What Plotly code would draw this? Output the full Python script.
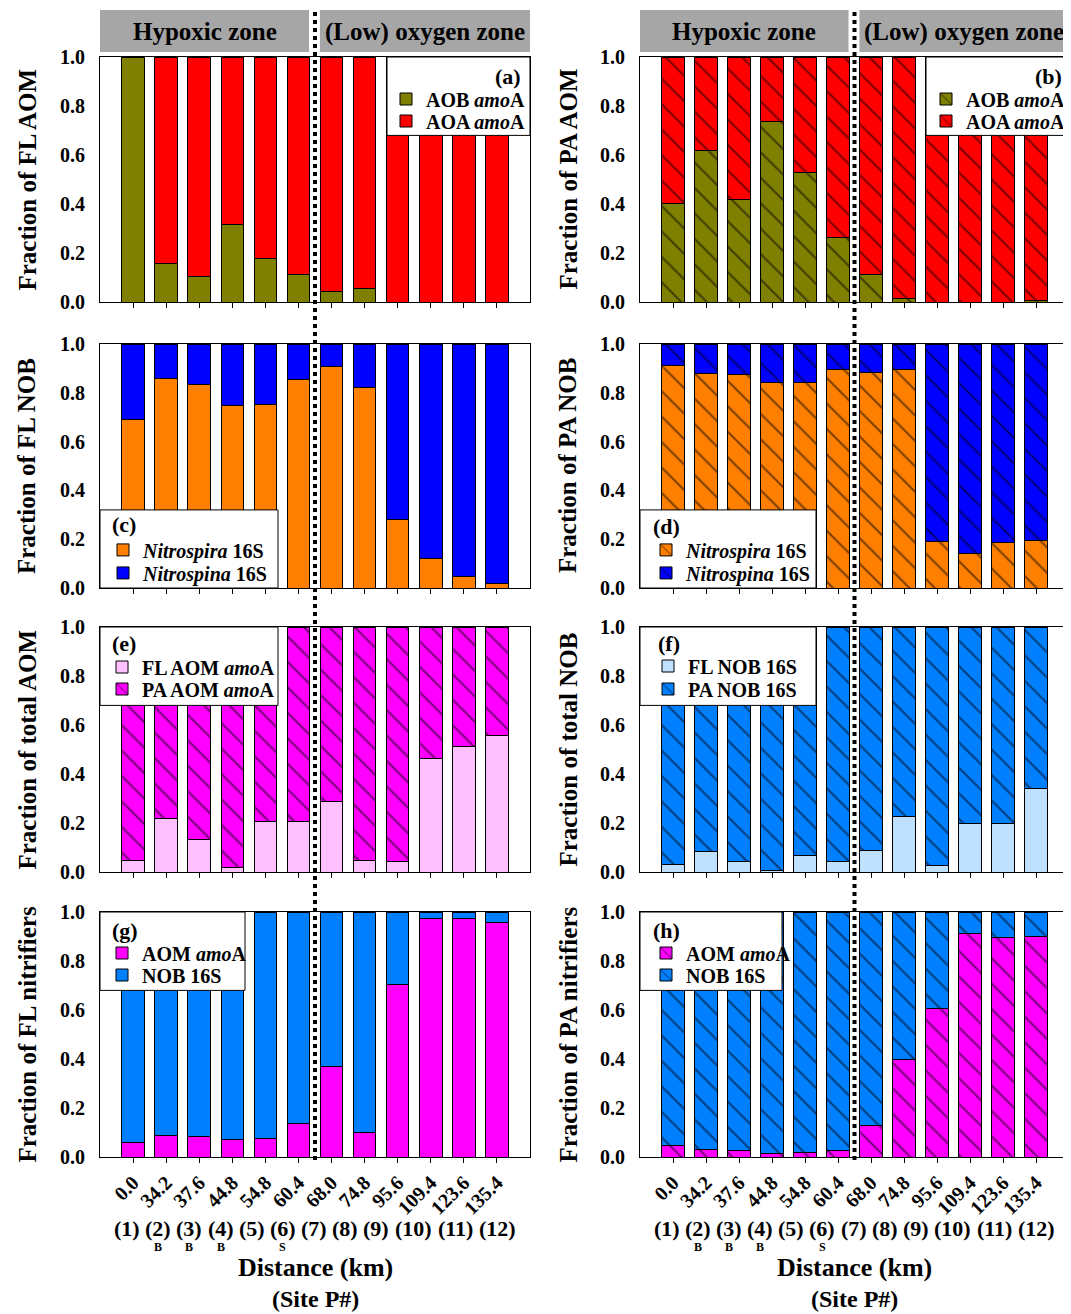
import plotly.graph_objects as go

W, H = 1071, 1314          # browser window
OFF = 8                    # default page body margin
FW, FH = W - OFF, H - OFF  # figure size so that the page fits the window
SERIF = "Liberation Serif, Times New Roman, serif"

# ---------------- data ----------------
distance_km = ["0.0", "34.2", "37.6", "44.8", "54.8", "60.4",
               "68.0", "74.8", "95.6", "109.4", "123.6", "135.4"]
site_labels = ["(1)", "(2)", "(3)", "(4)", "(5)", "(6)",
               "(7)", "(8)", "(9)", "(10)", "(11)", "(12)"]
site_subscripts = ["", "B", "B", "B", "", "S", "", "", "", "", "", ""]
zone_labels = ["Hypoxic zone", "(Low) oxygen zone"]

# (a) free-living ammonia oxidisers
fl_aob_amoA = [1.000, 0.156, 0.105, 0.318, 0.177, 0.114, 0.041, 0.057, 0.0, 0.0, 0.0, 0.0]
fl_aoa_amoA = [0.000, 0.844, 0.895, 0.682, 0.823, 0.886, 0.959, 0.943, 1.0, 1.0, 1.0, 1.0]
# (b) particle-attached ammonia oxidisers
pa_aob_amoA = [0.401, 0.620, 0.418, 0.736, 0.528, 0.265, 0.114, 0.016, 0.0, 0.0, 0.0, 0.005]
pa_aoa_amoA = [0.599, 0.380, 0.582, 0.264, 0.472, 0.735, 0.886, 0.984, 1.0, 1.0, 1.0, 0.995]
# (c) free-living NOB
fl_nitrospira = [0.691, 0.859, 0.834, 0.748, 0.754, 0.854, 0.907, 0.822, 0.280, 0.119, 0.049, 0.018]
fl_nitrospina = [0.309, 0.141, 0.166, 0.252, 0.246, 0.146, 0.093, 0.178, 0.720, 0.881, 0.951, 0.982]
# (d) particle-attached NOB
pa_nitrospira = [0.911, 0.880, 0.876, 0.844, 0.844, 0.895, 0.885, 0.895, 0.192, 0.140, 0.186, 0.196]
pa_nitrospina = [0.089, 0.120, 0.124, 0.156, 0.156, 0.105, 0.115, 0.105, 0.808, 0.860, 0.814, 0.804]
# (e) total AOM
fl_aom_of_total = [0.046, 0.218, 0.131, 0.020, 0.208, 0.208, 0.286, 0.046, 0.041, 0.464, 0.512, 0.558]
pa_aom_of_total = [0.954, 0.782, 0.869, 0.980, 0.792, 0.792, 0.714, 0.954, 0.959, 0.536, 0.488, 0.442]
# (f) total NOB
fl_nob_of_total = [0.031, 0.083, 0.042, 0.005, 0.067, 0.042, 0.089, 0.225, 0.025, 0.199, 0.199, 0.340]
pa_nob_of_total = [0.969, 0.917, 0.958, 0.995, 0.933, 0.958, 0.911, 0.775, 0.975, 0.801, 0.801, 0.660]
# (g) FL nitrifiers
fl_aom_amoA = [0.060, 0.087, 0.082, 0.071, 0.076, 0.135, 0.370, 0.098, 0.705, 0.974, 0.974, 0.956]
fl_nob_16s = [0.940, 0.913, 0.918, 0.929, 0.924, 0.865, 0.630, 0.902, 0.295, 0.026, 0.026, 0.044]
# (h) PA nitrifiers
pa_aom_amoA = [0.046, 0.030, 0.025, 0.014, 0.019, 0.025, 0.130, 0.397, 0.606, 0.914, 0.895, 0.899]
pa_nob_16s = [0.954, 0.970, 0.975, 0.986, 0.981, 0.975, 0.870, 0.603, 0.394, 0.086, 0.105, 0.101]

y_ticks = [0.0, 0.2, 0.4, 0.6, 0.8, 1.0]

# ---------------- style ----------------
OLIVE, RED = "#808000", "#ff0000"
ORANGE, BLUE = "#ff8000", "#0000ff"
MAGENTA, PINK = "#ff00ff", "#ffc0ff"
SKY, LIGHTSKY = "#0080ff", "#c0e0ff"

col_px = [(100, 530), (640, 1069)]
row_px = [(57, 302), (344, 588), (627, 872), (912, 1157)]

panels = [
    dict(lab="(a)", r=0, c=0, yt="Fraction of FL AOM", leg="tr", bw=143,
         lx=-7, ly=20, tx=-104, ty=(42, 64),
         s=[("AOB <i>amo</i>A", fl_aob_amoA, OLIVE, False), ("AOA <i>amo</i>A", fl_aoa_amoA, RED, False)]),
    dict(lab="(b)", r=0, c=1, yt="Fraction of PA AOM", leg="tr", bw=143,
         lx=-5, ly=20, tx=-103, ty=(42, 64),
         s=[("AOB <i>amo</i>A", pa_aob_amoA, OLIVE, True), ("AOA <i>amo</i>A", pa_aoa_amoA, RED, True)]),
    dict(lab="(c)", r=1, c=0, yt="Fraction of FL NOB", leg="bl", bw=178,
         lx=10, ly=15, tx=43, ty=(40, 63),
         s=[("<i>Nitrospira</i> 16S", fl_nitrospira, ORANGE, False), ("<i>Nitrospina</i> 16S", fl_nitrospina, BLUE, False)]),
    dict(lab="(d)", r=1, c=1, yt="Fraction of PA NOB", leg="bl", bw=176,
         lx=11, ly=17, tx=46, ty=(40, 63),
         s=[("<i>Nitrospira</i> 16S", pa_nitrospira, ORANGE, True), ("<i>Nitrospina</i> 16S", pa_nitrospina, BLUE, True)]),
    dict(lab="(e)", r=2, c=0, yt="Fraction of total AOM", leg="tl", bw=178,
         lx=10, ly=16, tx=42, ty=(40, 62),
         s=[("FL AOM <i>amo</i>A", fl_aom_of_total, PINK, False), ("PA AOM <i>amo</i>A", pa_aom_of_total, MAGENTA, True)]),
    dict(lab="(f)", r=2, c=1, yt="Fraction of total NOB", leg="tl", bw=176,
         lx=16, ly=16, tx=48, ty=(39, 62),
         s=[("FL NOB 16S", fl_nob_of_total, LIGHTSKY, False), ("PA NOB 16S", pa_nob_of_total, SKY, True)]),
    dict(lab="(g)", r=3, c=0, yt="Fraction of FL nitrifiers", leg="tl", bw=145,
         lx=10, ly=18, tx=42, ty=(41, 63),
         s=[("AOM <i>amo</i>A", fl_aom_amoA, MAGENTA, False), ("NOB 16S", fl_nob_16s, SKY, False)]),
    dict(lab="(h)", r=3, c=1, yt="Fraction of PA nitrifiers", leg="tl", bw=142,
         lx=11, ly=18, tx=46, ty=(41, 63),
         s=[("AOM <i>amo</i>A", pa_aom_amoA, MAGENTA, True), ("NOB 16S", pa_nob_16s, SKY, True)]),
]

def px_x(v):
    return (v - OFF) / FW

def px_y(v):
    return 1 - (v - OFF) / FH

fig = go.Figure()
shapes, annotations = [], []
layout = dict(width=FW, height=FH, margin=dict(l=0, r=0, t=0, b=0),
              template="none", paper_bgcolor="white", plot_bgcolor="white",
              barmode="stack", font=dict(family=SERIF, color="black", size=20),
              showlegend=True)

leg_count = 0
for i, p in enumerate(panels):
    n = i + 1
    xa = "x" if n == 1 else f"x{n}"
    ya = "y" if n == 1 else f"y{n}"
    x0, x1 = col_px[p["c"]]
    y0, y1 = row_px[p["r"]]
    bottom = p["r"] == 3

    layout["xaxis" if n == 1 else f"xaxis{n}"] = dict(
        domain=[px_x(x0), px_x(x1)], anchor=ya, type="category", range=[-1, 12],
        showline=True, mirror=True, linecolor="black", linewidth=1,
        ticks="outside", ticklen=5, tickcolor="black", tickwidth=1,
        showticklabels=bottom, tickangle=-45,
        tickfont=dict(family=SERIF, size=20, color="black", weight="bold"),
        showgrid=False, zeroline=False, automargin=False)
    layout["yaxis" if n == 1 else f"yaxis{n}"] = dict(
        domain=[px_y(y1), px_y(y0)], anchor=xa, range=[0, 1],
        tickvals=y_ticks, tickformat=".1f", ticks="", ticklabelstandoff=10,
        showline=True, mirror=True, linecolor="black", linewidth=1,
        tickfont=dict(family=SERIF, size=20, color="black", weight="bold"),
        showgrid=False, zeroline=False, automargin=False)

    # legend box
    if p["leg"] == "tr":
        bx0, bx1, by0 = x1 - p["bw"], x1, y0
    elif p["leg"] == "tl":
        bx0, bx1, by0 = x0, x0 + p["bw"], y0
    else:
        bx0, bx1, by0 = x0, x0 + p["bw"], y1 - 0.32 * (y1 - y0)
    by1 = by0 + 0.32 * (y1 - y0)
    shapes.append(dict(type="rect", xref="paper", yref="paper", layer="above",
                       x0=px_x(bx0), x1=px_x(bx1), y0=px_y(by1), y1=px_y(by0),
                       fillcolor="white", line=dict(color="black", width=1)))
    # panel label
    if p["leg"] == "tr":
        annotations.append(dict(text="<b>%s</b>" % p["lab"], xref="paper", yref="paper",
                                x=px_x(x1 + p["lx"]), y=px_y(by0 + p["ly"]),
                                xanchor="right", yanchor="middle", showarrow=False,
                                font=dict(family=SERIF, size=22, color="black")))
        tx0 = x1 + p["tx"]
    else:
        annotations.append(dict(text="<b>%s</b>" % p["lab"], xref="paper", yref="paper",
                                x=px_x(x0 + p["lx"]), y=px_y(by0 + p["ly"]),
                                xanchor="left", yanchor="middle", showarrow=False,
                                font=dict(family=SERIF, size=22, color="black")))
        tx0 = x0 + p["tx"]

    for si, (name, vals, color, hatch) in enumerate(p["s"]):
        leg_count += 1
        lname = "legend" if leg_count == 1 else f"legend{leg_count}"
        marker = dict(color=color, line=dict(color="black", width=1))
        if hatch:
            marker["pattern"] = dict(shape="\\", fgcolor="black", bgcolor=color,
                                     size=18, solidity=0.12, fillmode="overlay")
        fig.add_trace(go.Bar(x=distance_km, y=vals, name=name, marker=marker,
                             width=0.68, xaxis=xa, yaxis=ya, legend=lname,
                             showlegend=True, hoverinfo="skip"))
        layout[lname] = dict(x=px_x(tx0 - 40), y=px_y(by0 + p["ty"][si]),
                             xanchor="left", yanchor="middle",
                             bgcolor="rgba(0,0,0,0)", borderwidth=0,
                             font=dict(family=SERIF, size=20, color="black", weight="bold"),
                             traceorder="normal", itemclick=False, itemdoubleclick=False)

    # y-axis title
    tcx = 27 if p["c"] == 0 else 568
    annotations.append(dict(text="<b>%s</b>" % p["yt"], xref="paper", yref="paper",
                            x=px_x(tcx), y=px_y((y0 + y1) / 2), textangle=-90,
                            xanchor="center", yanchor="middle", showarrow=False,
                            font=dict(family=SERIF, size=25, color="black")))

# zone headers, dotted divider, site labels, x titles
CW = {"(": 0.333, ")": 0.333, " ": 0.25}
def text_w(s, size):
    return sum(CW.get(ch, 0.5) for ch in s) * size

for c, (x0, x1) in enumerate(col_px):
    unit = (x1 - x0) / 13.0
    def cat_px(v):
        return x0 + (v + 1) * unit
    split = cat_px(5.5)
    boxes = [(x0, cat_px(5.32)), (cat_px(5.65), x1)]
    for (hx0, hx1), zl in zip(boxes, zone_labels):
        shapes.append(dict(type="rect", xref="paper", yref="paper", layer="below",
                           x0=px_x(hx0), x1=px_x(hx1), y0=px_y(52), y1=px_y(10),
                           fillcolor="#a6a6a6", line=dict(width=0)))
        annotations.append(dict(text="<b>%s</b>" % zl, xref="paper", yref="paper",
                                x=px_x((hx0 + hx1) / 2), y=px_y(32), showarrow=False,
                                xanchor="center", yanchor="middle",
                                font=dict(family=SERIF, size=25, color="black")))
    shapes.append(dict(type="line", xref="paper", yref="paper", layer="above",
                       x0=px_x(split), x1=px_x(split), y0=px_y(1160), y1=px_y(10),
                       line=dict(color="black", width=4, dash="dot")))

    # site labels laid out like one text line centred under the axis
    fs = 22
    full = " ".join(site_labels)
    cx = (x0 + x1) / 2
    pos = cx - text_w(full, fs) / 2
    for lab, sub in zip(site_labels, site_subscripts):
        w = text_w(lab, fs)
        annotations.append(dict(text="<b>%s</b>" % lab, xref="paper", yref="paper",
                                x=px_x(pos + w / 2), y=px_y(1228), showarrow=False,
                                xanchor="center", yanchor="middle",
                                font=dict(family=SERIF, size=fs, color="black")))
        if sub:
            annotations.append(dict(text="<b>%s</b>" % sub, xref="paper", yref="paper",
                                    x=px_x(pos + w / 2), y=px_y(1247), showarrow=False,
                                    xanchor="center", yanchor="middle",
                                    font=dict(family=SERIF, size=12, color="black")))
        pos += w + text_w(" ", fs)
    annotations.append(dict(text="<b>Distance (km)</b>", xref="paper", yref="paper",
                            x=px_x(cx), y=px_y(1267), showarrow=False,
                            xanchor="center", yanchor="middle",
                            font=dict(family=SERIF, size=26, color="black")))
    annotations.append(dict(text="<b>(Site P#)</b>", xref="paper", yref="paper",
                            x=px_x(cx), y=px_y(1299), showarrow=False,
                            xanchor="center", yanchor="middle",
                            font=dict(family=SERIF, size=24, color="black")))

layout["shapes"] = shapes
layout["annotations"] = annotations
fig.update_layout(**layout)
fig.write_html("out.html")
